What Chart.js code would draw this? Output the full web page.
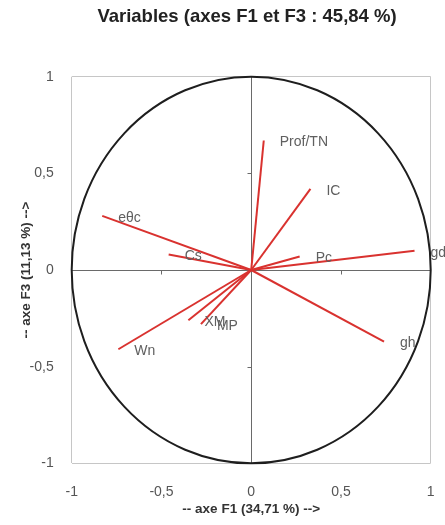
<!DOCTYPE html>
<html>
<head>
<meta charset="utf-8">
<script src="https://cdn.jsdelivr.net/npm/chart.js@4.4.0/dist/chart.umd.min.js"></script>
<style>
  html, body { margin: 0; padding: 0; background: #ffffff; }
  canvas { display: block; }
</style>
</head>
<body>
<canvas id="chart" width="445" height="525"></canvas>
<script>
// Variable loadings on factor axes F1 and F3
const variables = ['Prof/TN', 'IC', 'Pc', 'gd', 'gh', 'eθc', 'Cs', 'Wn', 'XM', 'MP'];
const f1Values = [0.07, 0.33, 0.27, 0.91, 0.74, -0.83, -0.46, -0.74, -0.35, -0.28];
const f3Values = [0.67, 0.42, 0.07, 0.10, -0.37, 0.28, 0.08, -0.41, -0.26, -0.28];

const tickValues = [-1, -0.5, 0, 0.5, 1];
const tickLabels = ['-1', '-0,5', '0', '0,5', '1'];

const chartTitle = 'Variables (axes F1 et F3 : 45,84 %)';

const FONT = "'Liberation Sans', Arial, sans-serif";
const VECTOR_COLOR = '#d9322f';

const datasets = variables.map((name, i) => ({
  label: name,
  data: [{ x: 0, y: 0 }, { x: f1Values[i], y: f3Values[i] }],
  showLine: true,
  borderColor: VECTOR_COLOR,
  borderWidth: 2,
  pointRadius: 0,
  pointHoverRadius: 0,
  fill: false
}));

function gridColor(ctx) {
  const v = ctx.tick ? ctx.tick.value : null;
  if (v === 0) return '#6a6a6a';
  if (v === 1 || v === -1) return '#c6c6c6';
  return 'rgba(0,0,0,0)';
}

// Heading, placed slightly left of the plot centre
const headingPlugin = {
  id: 'heading',
  afterDraw(chart) {
    const { ctx } = chart;
    ctx.save();
    ctx.font = 'bold 18.5px ' + FONT;
    ctx.fillStyle = '#222222';
    ctx.textAlign = 'center';
    ctx.textBaseline = 'middle';
    ctx.fillText(chartTitle, 247, 17);
    ctx.restore();
  }
};

// Correlation circle plus small tick marks on the zero axes
const circlePlugin = {
  id: 'circle',
  beforeDatasetsDraw(chart) {
    const { ctx, scales: { x, y } } = chart;
    const cx = x.getPixelForValue(0);
    const cy = y.getPixelForValue(0);
    const rx = x.getPixelForValue(1) - cx;
    const ry = cy - y.getPixelForValue(1);
    ctx.save();
    ctx.strokeStyle = '#6a6a6a';
    ctx.lineWidth = 1;
    ctx.beginPath();
    [-0.5, 0.5].forEach(v => {
      const px = Math.round(x.getPixelForValue(v)) + 0.5;
      ctx.moveTo(px, Math.round(cy) + 0.5);
      ctx.lineTo(px, Math.round(cy) + 4.5);
      const py = Math.round(y.getPixelForValue(v)) + 0.5;
      ctx.moveTo(Math.round(cx) + 0.5, py);
      ctx.lineTo(Math.round(cx) - 3.5, py);
    });
    ctx.stroke();
    ctx.strokeStyle = '#1e1e1e';
    ctx.lineWidth = 2;
    ctx.beginPath();
    ctx.ellipse(cx, cy, rx, ry, 0, 0, Math.PI * 2);
    ctx.stroke();
    ctx.restore();
  }
};

// Variable names next to the end of each vector
const labelPlugin = {
  id: 'vectorLabels',
  afterDatasetsDraw(chart) {
    const { ctx } = chart;
    ctx.save();
    ctx.font = '14px ' + FONT;
    ctx.fillStyle = '#606060';
    ctx.textAlign = 'left';
    ctx.textBaseline = 'middle';
    chart.data.datasets.forEach((ds, i) => {
      const pt = chart.getDatasetMeta(i).data[1];
      ctx.fillText(ds.label, pt.x + 16, pt.y + 2);
    });
    ctx.restore();
  }
};

new Chart(document.getElementById('chart'), {
  type: 'scatter',
  data: { datasets },
  options: {
    responsive: false,
    devicePixelRatio: 1,
    animation: false,
    events: [],
    layout: { padding: { left: 0, right: 14.3, top: 76.7, bottom: 0 } },
    plugins: {
      legend: { display: false },
      tooltip: { enabled: false },
      title: { display: false }
    },
    scales: {
      x: {
        type: 'linear',
        min: -1,
        max: 1,
        afterBuildTicks(scale) { scale.ticks = tickValues.map(v => ({ value: v })); },
        afterFit(scale) {
          scale.height = 61.7;
          scale.paddingLeft = 4;
          scale.paddingRight = 4;
        },
        ticks: {
          padding: 20,
          color: '#555555',
          font: { family: FONT, size: 14 },
          maxRotation: 0,
          callback: (v, i) => tickLabels[i]
        },
        grid: { color: gridColor, drawTicks: false, lineWidth: 1 },
        border: { display: false },
        title: {
          display: true,
          text: '-- axe F1 (34,71 %) -->',
          color: '#333333',
          font: { family: FONT, size: 13.5, weight: 'bold' },
          padding: { top: 0, bottom: 7.8 }
        }
      },
      y: {
        type: 'linear',
        min: -1,
        max: 1,
        afterBuildTicks(scale) { scale.ticks = tickValues.map(v => ({ value: v })); },
        afterFit(scale) { scale.width = 71.7; },
        ticks: {
          padding: 18,
          color: '#555555',
          font: { family: FONT, size: 14 },
          callback: (v, i) => tickLabels[i]
        },
        grid: { color: gridColor, drawTicks: false, lineWidth: 1 },
        border: { display: false },
        title: {
          display: true,
          text: '-- axe F3 (11,13 %) -->',
          color: '#333333',
          font: { family: FONT, size: 13.5, weight: 'bold' },
          padding: { top: 17.8, bottom: 0 }
        }
      }
    }
  },
  plugins: [circlePlugin, labelPlugin, headingPlugin]
});
</script>
</body>
</html>
